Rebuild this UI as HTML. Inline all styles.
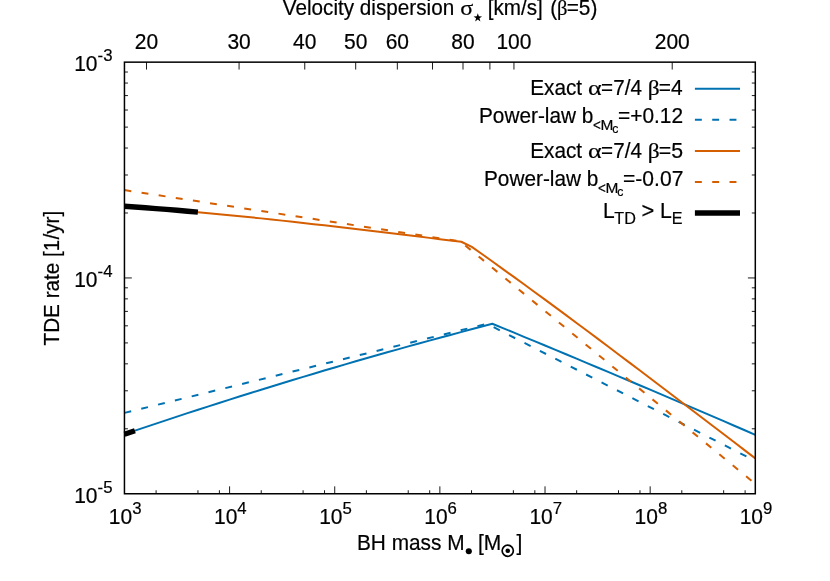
<!DOCTYPE html>
<html><head><meta charset="utf-8"><title>TDE rate</title>
<style>
html,body{margin:0;padding:0;background:#fff;}
svg{display:block;will-change:transform;}
text{font-family:"Liberation Sans",sans-serif;font-size:21px;fill:#000;stroke:#000;stroke-width:0.2px;}
.sym{font-family:"Liberation Serif",serif;}
</style></head><body>
<svg width="830" height="581" viewBox="0 0 830 581">
<rect width="830" height="581" fill="#fff"/>
<path d="M156.10 493.75v-3.5M197.94 493.75v-3.5M219.40 493.75v-3.5M229.59 493.75v-7.4M261.24 493.75v-3.5M303.08 493.75v-3.5M324.54 493.75v-3.5M334.73 493.75v-7.4M366.38 493.75v-3.5M408.22 493.75v-3.5M429.69 493.75v-3.5M439.87 493.75v-7.4M471.53 493.75v-3.5M513.37 493.75v-3.5M534.83 493.75v-3.5M545.02 493.75v-7.4M576.67 493.75v-3.5M618.51 493.75v-3.5M639.97 493.75v-3.5M650.16 493.75v-7.4M681.81 493.75v-3.5M723.65 493.75v-3.5M745.11 493.75v-3.5M146.50 62.15v7.4M239.07 62.15v7.4M304.75 62.15v7.4M355.70 62.15v7.4M397.33 62.15v7.4M432.52 62.15v7.4M463.01 62.15v7.4M489.90 62.15v7.4M513.95 62.15v7.4M672.21 62.15v7.4M124.45 212.99h3.5M755.3 212.99h-3.5M124.45 174.99h3.5M755.3 174.99h-3.5M124.45 148.03h3.5M755.3 148.03h-3.5M124.45 127.11h3.5M755.3 127.11h-3.5M124.45 110.02h3.5M755.3 110.02h-3.5M124.45 95.58h3.5M755.3 95.58h-3.5M124.45 83.06h3.5M755.3 83.06h-3.5M124.45 72.02h3.5M755.3 72.02h-3.5M124.45 277.95h7.4M755.3 277.95h-7.4M124.45 428.79h3.5M755.3 428.79h-3.5M124.45 390.79h3.5M755.3 390.79h-3.5M124.45 363.83h3.5M755.3 363.83h-3.5M124.45 342.91h3.5M755.3 342.91h-3.5M124.45 325.82h3.5M755.3 325.82h-3.5M124.45 311.38h3.5M755.3 311.38h-3.5M124.45 298.86h3.5M755.3 298.86h-3.5M124.45 287.82h3.5M755.3 287.82h-3.5" stroke="#000" stroke-width="0.9" fill="none"/>
<g fill="none" stroke-width="2" stroke-linejoin="round">
<path d="M124.45 434.25 L134.96 430.67 L145.48 427.12 L155.99 423.60 L166.51 420.10 L177.02 416.62 L187.53 413.17 L198.05 409.75 L208.56 406.34 L219.08 402.97 L229.59 399.62 L240.11 396.29 L250.62 392.99 L261.13 389.71 L271.65 386.45 L282.16 383.23 L292.68 380.02 L303.19 376.84 L313.70 373.69 L324.22 370.56 L334.73 367.45 L345.25 364.37 L355.76 361.32 L366.28 358.29 L376.79 355.28 L387.30 352.30 L397.82 349.34 L408.33 346.41 L418.85 343.50 L429.36 340.62 L439.87 337.76 L450.39 334.93 L460.90 332.12 L471.42 329.34 L481.93 326.58 L492.30 323.75 L502.96 328.12 L513.47 332.45 L523.99 336.80 L534.50 341.16 L545.02 345.52 L555.53 349.90 L566.04 354.28 L576.56 358.67 L587.07 363.08 L597.59 367.49 L608.10 371.91 L618.62 376.34 L629.13 380.78 L639.64 385.23 L650.16 389.69 L660.67 394.16 L671.19 398.64 L681.70 403.13 L692.21 407.63 L702.73 412.13 L713.24 416.65 L723.76 421.17 L734.27 425.71 L744.79 430.25 L755.30 434.81" stroke="#0072b2"/>
<path d="M124.45 412.90 L487.00 323.80 L755.30 461.00" stroke="#0072b2" stroke-dasharray="6.92 10.39"/>
<path d="M124.45 206.27 L134.96 207.00 L145.48 207.78 L155.99 208.59 L166.51 209.43 L177.02 210.31 L187.53 211.22 L198.05 212.16 L208.56 213.13 L219.08 214.13 L229.59 215.15 L240.11 216.20 L250.62 217.28 L261.13 218.38 L271.65 219.49 L282.16 220.63 L292.68 221.79 L303.19 222.96 L313.70 224.15 L324.22 225.36 L334.73 226.58 L345.25 227.81 L355.76 229.04 L366.28 230.29 L376.79 231.55 L387.30 232.81 L397.82 234.07 L408.33 235.34 L418.85 236.61 L429.36 237.88 L439.87 239.15 L450.39 240.42 L461.30 241.73 L471.80 246.84 L481.93 254.03 L492.45 261.53 L502.96 269.07 L513.47 276.66 L523.99 284.29 L534.50 291.96 L545.02 299.66 L555.53 307.40 L566.04 315.17 L576.56 322.97 L587.07 330.80 L597.59 338.66 L608.10 346.54 L618.62 354.44 L629.13 362.36 L639.64 370.30 L650.16 378.26 L660.67 386.24 L671.19 394.23 L681.70 402.22 L692.21 410.23 L702.73 418.24 L713.24 426.26 L723.76 434.28 L734.27 442.31 L744.79 450.33 L755.30 458.35" stroke="#d55e00"/>
<path d="M124.45 190.10 L460.30 241.40 L755.30 483.90" stroke="#d55e00" stroke-dasharray="6.92 10.39"/>
</g>
<path d="M124.45 206.27 L134.96 207.00 L145.48 207.78 L155.99 208.59 L166.51 209.43 L177.02 210.31 L187.53 211.22 L197.90 212.14M124.45 434.25 L134.90 430.69" stroke="#000" stroke-width="5.4" fill="none"/>
<rect x="124.45" y="62.15" width="630.85" height="431.60" fill="none" stroke="#000" stroke-width="1.5"/>
<g fill="none" stroke-width="2">
<path d="M694.9 88.7H740.0" stroke="#0072b2"/>
<path d="M694.9 119.7H740.0" stroke="#0072b2" stroke-dasharray="6.92 10.39"/>
<path d="M694.9 151.0H740.0" stroke="#d55e00"/>
<path d="M694.9 181.9H740.0" stroke="#d55e00" stroke-dasharray="6.92 10.39"/>
<path d="M694.9 213.0H740.0" stroke="#000" stroke-width="5.4"/>
</g>
<text transform="translate(530.17,95.00) scale(0.9896,1.035)">Exact</text>
<text transform="translate(588.07,95.00) scale(1.2410,1.035)" class="sym">α</text>
<text transform="translate(601.12,95.00) scale(0.9831,1.035)">=7/4</text>
<text transform="translate(647.71,95.00) scale(1.1164,1.035)" class="sym">β</text>
<text transform="translate(658.80,95.00) scale(0.9966,1.035)">=4</text>
<text transform="translate(530.17,158.00) scale(0.9896,1.035)">Exact</text>
<text transform="translate(588.07,158.00) scale(1.2410,1.035)" class="sym">α</text>
<text transform="translate(601.12,158.00) scale(0.9831,1.035)">=7/4</text>
<text transform="translate(647.71,158.00) scale(1.1164,1.035)" class="sym">β</text>
<text transform="translate(658.79,158.00) scale(1.0136,1.035)">=5</text>
<text transform="translate(478.97,123.05) scale(0.9905,1.035)">Power-law b</text>
<text transform="translate(592.98,129.85) scale(1.0000,1.035)" style="font-size:13.4px">&lt;</text>
<text transform="translate(600.51,129.80) scale(1.0300,1.035)" style="font-size:15.0px">M</text>
<text transform="translate(612.28,133.45) scale(1.0400,1.035)" style="font-size:11.8px">c</text>
<text transform="translate(618.06,123.05) scale(0.9933,1.035)">=+0.12</text>
<text transform="translate(483.97,185.75) scale(0.9905,1.035)">Power-law b</text>
<text transform="translate(597.98,192.55) scale(1.0000,1.035)" style="font-size:13.4px">&lt;</text>
<text transform="translate(605.51,192.50) scale(1.0300,1.035)" style="font-size:15.0px">M</text>
<text transform="translate(617.28,196.15) scale(1.0400,1.035)" style="font-size:11.8px">c</text>
<text transform="translate(623.05,185.75) scale(1.0034,1.035)">=-0.07</text>
<text transform="translate(602.95,218.30) scale(1.0000,1.035)">L</text>
<text transform="translate(614.24,223.80) scale(0.9647,1.035)" style="font-size:16.8px">TD</text>
<text transform="translate(641.56,218.30) scale(1.0439,1.035)">&gt;</text>
<text transform="translate(660.08,218.30) scale(1.0108,1.035)">L</text>
<text transform="translate(671.73,223.80) scale(0.9589,1.035)" style="font-size:16.8px">E</text>
<text transform="translate(146.50,48.50) scale(1,1.035)" text-anchor="middle">20</text>
<text transform="translate(239.07,48.50) scale(1,1.035)" text-anchor="middle">30</text>
<text transform="translate(304.75,48.50) scale(1,1.035)" text-anchor="middle">40</text>
<text transform="translate(355.70,48.50) scale(1,1.035)" text-anchor="middle">50</text>
<text transform="translate(397.33,48.50) scale(1,1.035)" text-anchor="middle">60</text>
<text transform="translate(463.01,48.50) scale(1,1.035)" text-anchor="middle">80</text>
<text transform="translate(513.95,48.50) scale(1,1.035)" text-anchor="middle">100</text>
<text transform="translate(672.21,48.50) scale(1,1.035)" text-anchor="middle">200</text>
<text transform="translate(282.78,15.00) scale(0.9855,1.035)">Velocity dispersion</text>
<text transform="translate(460.24,15.00) scale(1.1415,1.035)" class="sym">σ</text>
<polygon points="477.80,13.35 478.86,16.34 482.03,16.42 479.51,18.36 480.42,21.40 477.80,19.60 475.18,21.40 476.09,18.36 473.57,16.42 476.74,16.34" fill="#000"/>
<text transform="translate(487.72,15.00) scale(0.9849,1.035)">[km/s]</text>
<text transform="translate(550.35,15.00) scale(1.0000,1.035)">(</text>
<text transform="translate(557.05,15.00) scale(0.9791,1.035)" class="sym">β</text>
<text transform="translate(566.71,15.00) scale(0.9921,1.035)">=5)</text>
<text transform="translate(74.20,71.05) scale(1,1.035)">10<tspan style="font-size:16.8px" dy="-9.28">-3</tspan></text>
<text transform="translate(74.20,286.85) scale(1,1.035)">10<tspan style="font-size:16.8px" dy="-9.28">-4</tspan></text>
<text transform="translate(74.20,502.65) scale(1,1.035)">10<tspan style="font-size:16.8px" dy="-9.28">-5</tspan></text>
<text transform="translate(108.85,523.60) scale(1,1.035)">10<tspan style="font-size:16.8px" dy="-9.47">3</tspan></text>
<text transform="translate(213.99,523.60) scale(1,1.035)">10<tspan style="font-size:16.8px" dy="-9.47">4</tspan></text>
<text transform="translate(319.13,523.60) scale(1,1.035)">10<tspan style="font-size:16.8px" dy="-9.47">5</tspan></text>
<text transform="translate(424.27,523.60) scale(1,1.035)">10<tspan style="font-size:16.8px" dy="-9.47">6</tspan></text>
<text transform="translate(529.42,523.60) scale(1,1.035)">10<tspan style="font-size:16.8px" dy="-9.47">7</tspan></text>
<text transform="translate(634.56,523.60) scale(1,1.035)">10<tspan style="font-size:16.8px" dy="-9.47">8</tspan></text>
<text transform="translate(739.70,523.60) scale(1,1.035)">10<tspan style="font-size:16.8px" dy="-9.47">9</tspan></text>
<text transform="translate(356.96,550.30) scale(0.9924,1.035)">BH mass M</text>
<circle cx="468.8" cy="551.3" r="3.05" fill="#000"/>
<text transform="translate(478.00,550.30) scale(1.0000,1.035)">[M</text>
<circle cx="507.75" cy="550.75" r="5.6" fill="none" stroke="#000" stroke-width="1.7"/><circle cx="507.75" cy="550.75" r="2.3" fill="#000"/>
<text transform="translate(516.48,550.30) scale(1.0000,1.035)">]</text>
<text transform="translate(59.3,345.5) rotate(-90) scale(0.987,1.035)">TDE rate [1/yr]</text>
</svg></body></html>
